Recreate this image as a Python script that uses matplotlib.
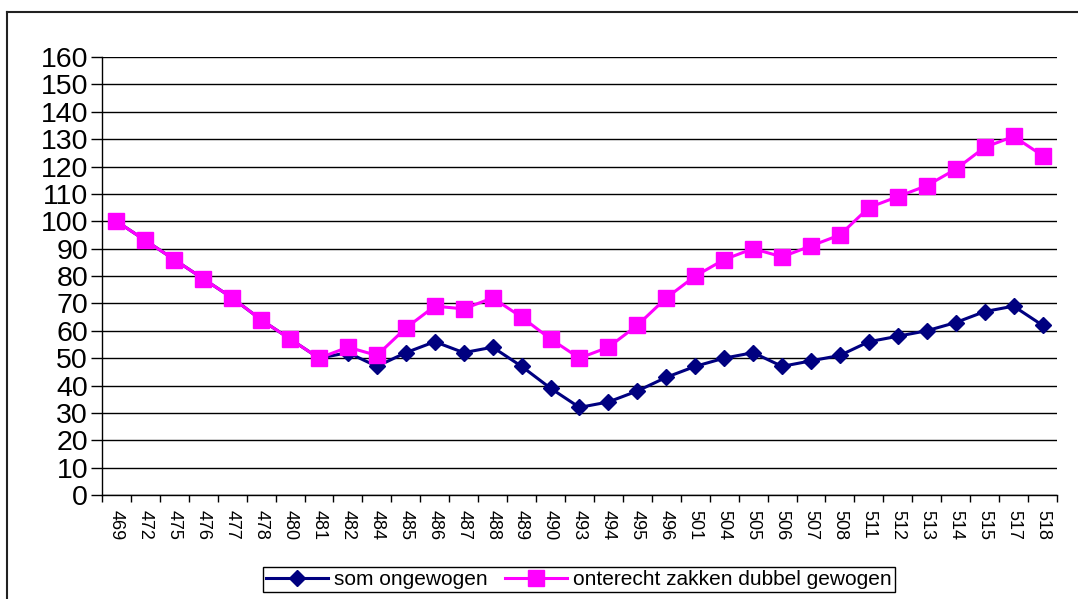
import numpy as np
import matplotlib.pyplot as plt
from matplotlib.lines import Line2D

plt.rcParams["font.family"] = ["Liberation Sans", "DejaVu Sans"]

# Category labels along the x axis
categories = ["469", "472", "475", "476", "477", "478", "480", "481", "482", "484",
              "485", "486", "487", "488", "489", "490", "493", "494", "495", "496",
              "501", "504", "505", "506", "507", "508", "511", "512", "513", "514",
              "515", "517", "518"]

# Series values
som_ongewogen = [100, 93, 86, 79, 72, 64, 57, 50, 52, 47,
                 52, 56, 52, 54, 47, 39, 32, 34, 38, 43,
                 47, 50, 52, 47, 49, 51, 56, 58, 60, 63,
                 67, 69, 62]
dubbel_gewogen = [100, 93, 86, 79, 72, 64, 57, 50, 54, 51,
                  61, 69, 68, 72, 65, 57, 50, 54, 62, 72,
                  80, 86, 90, 87, 91, 95, 105, 109, 113, 119,
                  127, 131, 124]

y_ticks = list(range(0, 161, 10))

fig = plt.figure(figsize=(10.78, 5.99), dpi=100)
ax = fig.add_axes([0.0946, 0.1736, 0.8859, 0.7312])

x = np.arange(len(categories))

ax.plot(x, som_ongewogen, color="#000080", lw=2.2, marker="D", markersize=8.5,
        label="som ongewogen", zorder=3)
ax.plot(x, dubbel_gewogen, color="#FF00FF", lw=2.2, marker="s", markersize=11,
        label="onterecht zakken dubbel gewogen", zorder=4)

ax.set_xlim(-0.5, len(categories) - 0.5)
ax.set_ylim(0, 160)
ax.set_yticks(y_ticks)
ax.set_yticklabels([str(v) for v in y_ticks], fontsize=20.5)
ax.yaxis.grid(True, color="black", lw=1)
ax.set_axisbelow(True)

# category labels at centres, tick marks at category boundaries
ax.set_xticks(x)
ax.set_xticklabels(categories, rotation=-90, fontsize=13)
ax.set_xticks(np.arange(len(categories) + 1) - 0.5, minor=True)
ax.tick_params(axis="x", which="major", length=0, pad=11)
ax.tick_params(axis="x", which="minor", length=5, width=1, color="black")
ax.tick_params(axis="y", length=8, width=1, color="black", pad=2)

for side in ["top", "right"]:
    ax.spines[side].set_visible(False)
for side in ["left", "bottom"]:
    ax.spines[side].set_color("black")
    ax.spines[side].set_linewidth(1)

leg = fig.legend(loc="center", bbox_to_anchor=(0.537, 0.032), ncol=2,
                 fontsize=15, frameon=True, fancybox=False, framealpha=1,
                 edgecolor="black", handlelength=3.0, handletextpad=0.3,
                 columnspacing=0.8, borderpad=0.15)
leg.get_frame().set_linewidth(1)

# outer chart-area border (cut off on the right and bottom)
fig.add_artist(Line2D([7 / 1078, 1.0], [1 - 12 / 599, 1 - 12 / 599],
                      transform=fig.transFigure, color="#222222", lw=1.5))
fig.add_artist(Line2D([7 / 1078, 7 / 1078], [0.0, 1 - 12 / 599],
                      transform=fig.transFigure, color="#222222", lw=1.5))

fig.savefig("out.png", dpi=100)
